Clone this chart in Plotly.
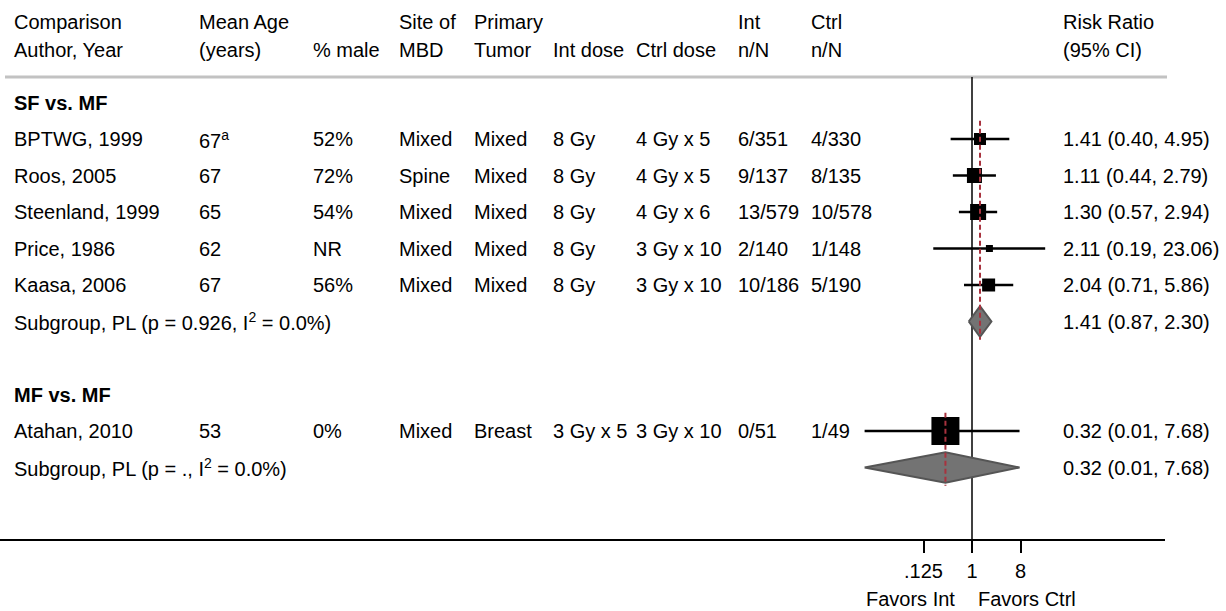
import plotly.graph_objects as go

# ---- study-level data ----
groups = ["SF vs. MF", "SF vs. MF", "SF vs. MF", "SF vs. MF", "SF vs. MF", "MF vs. MF"]
authors = ["BPTWG, 1999", "Roos, 2005", "Steenland, 1999", "Price, 1986", "Kaasa, 2006", "Atahan, 2010"]
mean_age = ["67<sup>a</sup>", "67", "65", "62", "67", "53"]
pct_male = ["52%", "72%", "54%", "NR", "56%", "0%"]
site_mbd = ["Mixed", "Spine", "Mixed", "Mixed", "Mixed", "Mixed"]
primary_tumor = ["Mixed", "Mixed", "Mixed", "Mixed", "Mixed", "Breast"]
int_dose = ["8 Gy", "8 Gy", "8 Gy", "8 Gy", "8 Gy", "3 Gy x 5"]
ctrl_dose = ["4 Gy x 5", "4 Gy x 5", "4 Gy x 6", "3 Gy x 10", "3 Gy x 10", "3 Gy x 10"]
int_nN = ["6/351", "9/137", "13/579", "2/140", "10/186", "0/51"]
ctrl_nN = ["4/330", "8/135", "10/578", "1/148", "5/190", "1/49"]
rr = [1.41, 1.11, 1.30, 2.11, 2.04, 0.32]
rr_lo = [0.40, 0.44, 0.57, 0.19, 0.71, 0.01]
rr_hi = [4.95, 2.79, 2.94, 23.06, 5.86, 7.68]

# ---- subgroup (pooled) data ----
sub_names = ["SF vs. MF", "MF vs. MF"]
sub_p = ["0.926", "."]
sub_i2 = ["0.0%", "0.0%"]
sub_rr = [1.41, 0.32]
sub_lo = [0.87, 0.01]
sub_hi = [2.30, 7.68]

# ---- styling ----
box_px = [12, 15, 16, 7, 13, 28]          # square marker sizes (study weights)
FONT = "Liberation Sans, Arial, sans-serif"
FS = 20
W, H = 1226, 611
ROW0_PX, ROW_PX = 102.5, 36.5              # pixel centre of first row, row pitch
AXIS_ROW = 12

def px_to_row(py):
    return (py - ROW0_PX) / ROW_PX

# column left edges in pixels
col_x = {
    "author": 12, "age": 197, "male": 311, "site": 397, "tumor": 472,
    "idose": 551, "cdose": 634, "inn": 736, "cnn": 809, "rr": 1061,
}

# ---- build row layout ----
rows = []   # (kind, payload)
for g_i, g in enumerate(sub_names):
    rows.append(("group", g))
    for s_i, sg in enumerate(groups):
        if sg == g:
            rows.append(("study", s_i))
    rows.append(("sub", g_i))
    rows.append(("blank", None))

fig = go.Figure()
ann = []

def text(xpx, row, s, bold=False, anchor="left"):
    ann.append(dict(
        x=xpx / W, xref="paper", y=row, yref="y", text=f"<b>{s}</b>" if bold else s,
        showarrow=False, xanchor=anchor, yanchor="middle",
        font=dict(family=FONT, size=FS, color="black"),
    ))

# header
h1, h2 = px_to_row(22), px_to_row(50)
headers = [
    ("author", "Comparison", "Author, Year"),
    ("age", "Mean Age", "(years)"),
    ("male", "", "% male"),
    ("site", "Site of", "MBD"),
    ("tumor", "Primary", "Tumor"),
    ("idose", "", "Int dose"),
    ("cdose", "", "Ctrl dose"),
    ("inn", "Int", "n/N"),
    ("cnn", "Ctrl", "n/N"),
    ("rr", "Risk Ratio", "(95% CI)"),
]
for key, a, b in headers:
    if a:
        text(col_x[key], h1, a)
    text(col_x[key], h2, b)

study_rows = {}
sub_rows = {}
for r, (kind, p) in enumerate(rows):
    if kind == "group":
        text(col_x["author"], r, p, bold=True)
    elif kind == "study":
        i = p
        study_rows[i] = r
        text(col_x["author"], r, authors[i])
        text(col_x["age"], r, mean_age[i])
        text(col_x["male"], r, pct_male[i])
        text(col_x["site"], r, site_mbd[i])
        text(col_x["tumor"], r, primary_tumor[i])
        text(col_x["idose"], r, int_dose[i])
        text(col_x["cdose"], r, ctrl_dose[i])
        text(col_x["inn"], r, int_nN[i])
        text(col_x["cnn"], r, ctrl_nN[i])
        text(col_x["rr"], r, f"{rr[i]:.2f} ({rr_lo[i]:.2f}, {rr_hi[i]:.2f})")
    elif kind == "sub":
        g = p
        sub_rows[g] = r
        text(col_x["author"], r, f"Subgroup, PL (p = {sub_p[g]}, I<sup>2</sup> = {sub_i2[g]})")
        text(col_x["rr"], r, f"{sub_rr[g]:.2f} ({sub_lo[g]:.2f}, {sub_hi[g]:.2f})")

# confidence-interval whiskers
cx, cy = [], []
for i in range(len(authors)):
    cx += [rr_lo[i], rr_hi[i], None]
    cy += [study_rows[i], study_rows[i], None]
fig.add_trace(go.Scatter(x=cx, y=cy, mode="lines",
                         line=dict(color="#000000", width=2.5),
                         hoverinfo="skip", showlegend=False))

# study point estimates
fig.add_trace(go.Scatter(
    x=rr, y=[study_rows[i] for i in range(len(authors))], mode="markers",
    marker=dict(symbol="square", size=box_px, color="#000000", opacity=1,
                line=dict(width=0)),
    opacity=1, hoverinfo="skip", showlegend=False,
))

# subgroup diamonds
for g in range(len(sub_names)):
    r = sub_rows[g]
    hh = 0.42
    fig.add_trace(go.Scatter(
        x=[sub_lo[g], sub_rr[g], sub_hi[g], sub_rr[g], sub_lo[g]],
        y=[r, r - hh, r, r + hh, r],
        mode="lines", fill="toself", fillcolor="#737373",
        line=dict(color="#555555", width=2),
        hoverinfo="skip", showlegend=False,
    ))

# pooled-estimate reference lines (dashed, per subgroup), on top of the marks
for g in range(len(sub_names)):
    members = [study_rows[i] for i in range(len(authors)) if groups[i] == sub_names[g]]
    fig.add_trace(go.Scatter(
        x=[sub_rr[g], sub_rr[g]], y=[min(members) - 0.5, sub_rows[g] + 0.5],
        mode="lines", line=dict(color="#a8323e", width=2, dash="5px,3px"),
        hoverinfo="skip", showlegend=False,
    ))

sep_row = px_to_row(77)
shapes = [
    # header separator
    dict(type="line", xref="paper", yref="y", x0=5 / W, x1=1167 / W, y0=sep_row, y1=sep_row,
         line=dict(color="#c2c2c2", width=3), layer="below"),
    # line of no effect
    dict(type="line", xref="x", yref="y", x0=1, x1=1, y0=sep_row, y1=AXIS_ROW,
         line=dict(color="black", width=1.5), layer="below"),
]

# favours labels under the axis
fav_row = px_to_row(599)
ann.append(dict(x=957 / W, xref="paper", y=fav_row, yref="y", text="Favors Int",
                showarrow=False, xanchor="right", yanchor="middle",
                font=dict(family=FONT, size=FS, color="black")))
ann.append(dict(x=976 / W, xref="paper", y=fav_row, yref="y", text="Favors Ctrl",
                showarrow=False, xanchor="left", yanchor="middle",
                font=dict(family=FONT, size=FS, color="black")))

px_per_dec = 53.70
x1_px = 972
x_range = [(0 - x1_px) / px_per_dec, (1165 - x1_px) / px_per_dec]

fig.update_layout(
    width=W, height=H, margin=dict(l=0, r=0, t=0, b=0),
    paper_bgcolor="white", plot_bgcolor="white",
    font=dict(family=FONT, size=FS, color="black"),
    annotations=ann, shapes=shapes, showlegend=False,
    xaxis=dict(
        type="log", domain=[0, 1165 / W], range=x_range,
        anchor="free", position=1 - 540 / H,
        showline=True, linecolor="black", linewidth=2,
        ticks="outside", ticklen=12, tickwidth=2, tickcolor="black",
        tickvals=[0.125, 1, 8], ticktext=[".125", "1", "8"],
        tickfont=dict(family=FONT, size=FS, color="black"),
        ticklabelstandoff=1,
        showgrid=False, zeroline=False,
    ),
    yaxis=dict(range=[px_to_row(H), px_to_row(0)], visible=False, domain=[0, 1]),
)

fig.write_html("out.html")
